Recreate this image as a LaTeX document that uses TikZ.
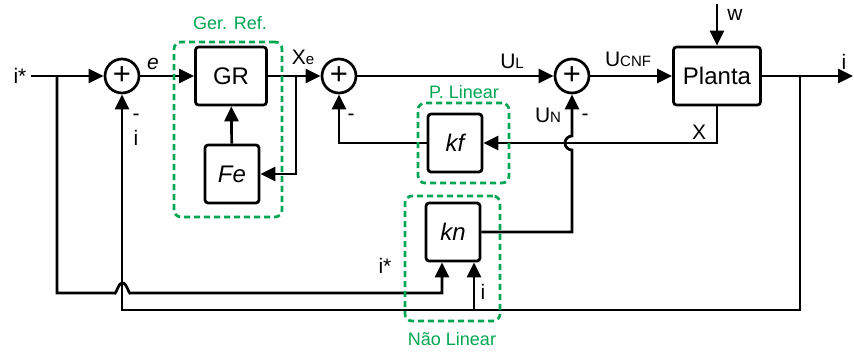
\documentclass[tikz,border=0pt]{standalone}
\usepackage{fontspec}
\setmainfont{Liberation Sans}
\usetikzlibrary{arrows.meta,positioning,calc}
\definecolor{grn}{RGB}{0,166,81}
\newcommand{\smtxt}[1]{{\fontsize{15}{15}\selectfont #1}}

\begin{document}
\begin{tikzpicture}[x=1pt,y=-1pt,line width=2.7pt,
  lbl/.style={font=\fontsize{21}{22}\selectfont,inner sep=0pt},
  blk/.style={draw,rounded corners=3pt,minimum width=54pt,minimum height=58pt,font=\fontsize{24}{24}\selectfont},
  sumn/.style={draw,circle,minimum size=34pt,inner sep=0pt,font=\fontsize{31}{31}\selectfont},
  grp/.style={draw=grn,line width=2.7pt,rounded corners=7pt,dash pattern=on 6pt off 4pt},
  grplbl/.style={text=grn,font=\fontsize{18}{18}\selectfont,inner sep=0pt},
  arr/.style={-{Triangle[length=15pt,width=14pt]}}]
\useasboundingbox (0,0) rectangle (854,354);
% blocks
\node[sumn] (s1) at (122,76) {+};
\node[blk,minimum width=71pt] (gr) at (231,76) {GR};
\node[blk] (fe) at (232,174) {\itshape Fe};
\node[sumn] (s2) at (339,76) {+};
\node[blk] (kf) at (455,143) {\itshape kf};
\node[sumn] (s3) at (572,76) {+};
\node[blk] (kn) at (453,232) {\itshape kn};
\node[blk,minimum width=87pt] (pl) at (717,76) {Planta};
\node[lbl,inner sep=3pt] (istar) at (20,76) {i*};
% free ends and branch points
\coordinate (ibr) at (57,76);
\coordinate (hop1) at (113,293);
\coordinate (xbr) at (296,76);
\coordinate (hop2) at (572,150);
\coordinate (obr) at (800,76);
\coordinate (fbk) at (800,310);
\coordinate (iout) at (853,76);
\coordinate (win) at (717,4);
\coordinate (knin1) at ($(kn.south)+(-11,0)$);
\coordinate (knin2) at ($(kn.south)+(21,0)$);
% forward path
\draw[arr] (istar.east) -- (s1.west);
\draw[arr] (s1) -- (gr);
\draw[arr] (gr) -- (s2);
\draw[arr] (xbr) |- (fe.east);
\draw[arr] (fe) -- (gr);
\draw[arr] (s2) -- (s3);
\draw[arr] (s3) -- (pl);
\draw[arr] (win) -- (pl);
\draw[arr] (pl) -- (iout);
% feedbacks
\draw[arr] (pl.south) |- (kf.east);
\draw[arr] (kf.west) -| (s2.south);
\draw[arr] (kn.east) -| (hop2) arc[start angle=90,end angle=270,radius=7] -- (s3.south);
\draw[arr] (ibr) |- (hop1) to[out=-50,in=180] ++(9.5,-10) to[out=0,in=-130] ++(9.5,10) -| (knin1);
\draw[arr] (obr) -- (fbk) -| (s1.south);
\draw[arr] (knin2 |- fbk) -- (knin2);
% labels
\node[lbl] (elbl) at (153,64) {\itshape e};
\node[lbl] (m1) at (136,117) {-};
\node[lbl] (ilbl1) at (136,138) {i};
\node[lbl] (xelbl) at (303,57) {X\smtxt{e}};
\node[lbl] (m2) at (351,117) {-};
\node[lbl] (ullbl) at (512,61) {U\smtxt{L}};
\node[lbl] (unlbl) at (548,115) {U\smtxt{N}};
\node[lbl] (m3) at (585,117) {-};
\node[lbl] (ucnflbl) at (628,59) {U\smtxt{CNF}};
\node[lbl] (wlbl) at (735,15) {w};
\node[lbl] (ilbl2) at (844,62) {i};
\node[lbl] (xlbl) at (699,132) {X};
\node[lbl] (istar2) at (385,266) {i*};
\node[lbl] (ilbl3) at (483,292) {i};
% dashed groups
\node[grp,minimum width=108pt,minimum height=175pt] (gref) at (228,129.5) {};
\node[grp,minimum width=91pt,minimum height=80pt] (plin) at (463.5,143) {};
\node[grp,minimum width=95pt,minimum height=125pt] (nlin) at (452.5,258.5) {};
\node[grplbl] (greflbl) at (230,23) {Ger. Ref.};
\node[grplbl] (plinlbl) at (464,92) {P. Linear};
\node[grplbl] (nlinlbl) at (452,339) {Não Linear};
\end{tikzpicture}
\end{document}
